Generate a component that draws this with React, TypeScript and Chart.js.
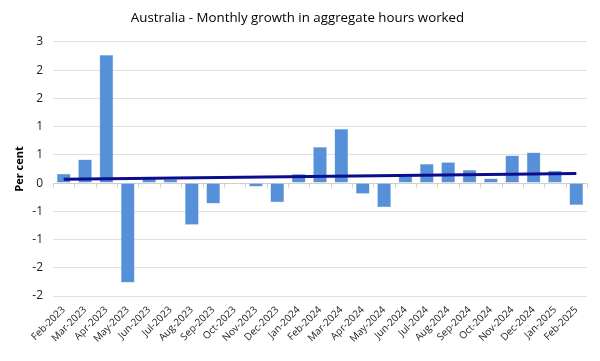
import React, { useEffect, useRef } from "react";
import { Chart, registerables } from "chart.js";
Chart.register(...registerables);

const months = [
  "Feb-2023", "Mar-2023", "Apr-2023", "May-2023", "Jun-2023", "Jul-2023", "Aug-2023",
  "Sep-2023", "Oct-2023", "Nov-2023", "Dec-2023", "Jan-2024", "Feb-2024", "Mar-2024",
  "Apr-2024", "May-2024", "Jun-2024", "Jul-2024", "Aug-2024", "Sep-2024", "Oct-2024",
  "Nov-2024", "Dec-2024", "Jan-2025", "Feb-2025",
];
const growth = [
  0.165, 0.42, 2.27, -1.76, 0.08, 0.07, -0.74,
  -0.36, 0.0, -0.06, -0.34, 0.16, 0.64, 0.96,
  -0.19, -0.43, 0.12, 0.34, 0.37, 0.23, 0.08,
  0.49, 0.54, 0.22, -0.39,
];
// linear trend line values at the first and last month
const trendEnds = [0.07, 0.17];
const yMin = -2;
const yMax = 2.5;
const yStep = 0.5;

const FONT = "'Open Sans', 'Liberation Sans', sans-serif";

const zeroLinePlugin = {
  id: "zeroLine",
  beforeDatasetsDraw(chart: any) {
    const { ctx, chartArea, scales } = chart;
    const y0 = Math.round(scales.y.getPixelForValue(0)) + 0.5;
    ctx.save();
    ctx.strokeStyle = "#d0d0d0";
    ctx.lineWidth = 1;
    ctx.beginPath();
    ctx.moveTo(chartArea.left, y0);
    ctx.lineTo(chartArea.right, y0);
    const n = months.length;
    const w = (chartArea.right - chartArea.left) / n;
    for (let i = 0; i <= n; i++) {
      const x = Math.round(chartArea.left + i * w) + 0.5;
      ctx.moveTo(x, y0);
      ctx.lineTo(x, y0 + 4);
    }
    ctx.stroke();
    ctx.restore();
  },
};

export default function App() {
  const ref = useRef<HTMLCanvasElement | null>(null);
  useEffect(() => {
    if (!ref.current) return;
    const last = months.length - 1;
    const trend = months.map((_, i) => (i === 0 ? trendEnds[0] : i === last ? trendEnds[1] : null));
    const chart = new Chart(ref.current, {
      type: "bar",
      data: {
        labels: months,
        datasets: [
          {
            type: "line",
            data: trend,
            borderColor: "#0c0c8c",
            borderWidth: 3,
            pointRadius: 0,
            spanGaps: true,
            order: 0,
          } as any,
          {
            type: "bar",
            data: growth,
            backgroundColor: "#5590d8",
            borderColor: "#8fb5e6",
            borderWidth: 0.5,
            barPercentage: 1,
            categoryPercentage: 0.64,
            order: 1,
          } as any,
        ],
      },
      options: {
        animation: false,
        responsive: true,
        maintainAspectRatio: false,
        layout: { padding: { top: 0, right: 5, bottom: 0, left: 0 } },
        plugins: {
          legend: { display: false },
          tooltip: { enabled: false },
          title: {
            display: true,
            text: "Australia - Monthly growth in aggregate hours worked",
            color: "#000",
            font: { family: FONT, size: 13.3, weight: "normal" },
            padding: { top: 2, bottom: 16 },
          },
        },
        scales: {
          x: {
            grid: { display: false },
            border: { display: false },
            ticks: {
              color: "#222",
              font: { family: FONT, size: 10 },
              maxRotation: 45,
              minRotation: 45,
              autoSkip: false,
              padding: 0,
            },
            afterFit(scale: any) {
              scale.height = 57;
            },
          },
          y: {
            min: yMin,
            max: yMax,
            ticks: {
              stepSize: yStep,
              color: "#222",
              font: { family: FONT, size: 12 },
              padding: 10,
              callback: (v: any) => {
                const n = Number(v);
                return String(Math.sign(n) * Math.round(Math.abs(n)));
              },
            },
            grid: { color: "#e0e0e0", drawTicks: false },
            border: { display: false },
            title: {
              display: true,
              text: "Per cent",
              color: "#000",
              font: { family: FONT, size: 11, weight: "bold" },
              padding: { top: 5, bottom: 0 },
            },
            afterFit(scale: any) {
              scale.width = 45;
            },
          },
        },
      },
      plugins: [zeroLinePlugin],
    });
    return () => chart.destroy();
  }, []);
  return (
    <div style={{ width: 584, height: 345, position: "relative" }}>
      <canvas ref={ref} />
    </div>
  );
}
